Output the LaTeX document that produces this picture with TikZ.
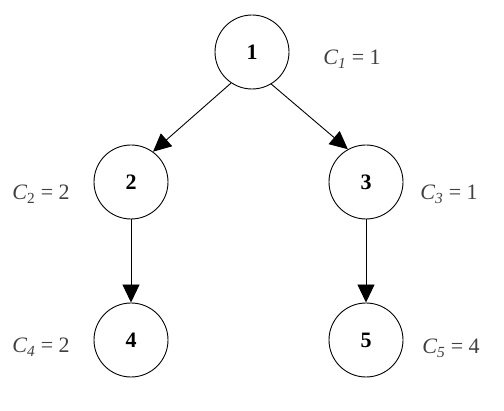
\documentclass[tikz,border=0pt]{standalone}
\usepackage{fontspec}
\setmainfont{Liberation Serif}
\usetikzlibrary{arrows.meta}
\begin{document}
\begin{tikzpicture}[x=1pt,y=-1pt,
  vert/.style={circle,draw=black,line width=0.9pt,minimum size=74pt,inner sep=0pt,font=\fontsize{22}{22}\selectfont\bfseries},
  cost/.style={anchor=base,text=black!75,font=\fontsize{22}{22}\selectfont,inner sep=0pt},
  arr/.style={line width=0.9pt,-{Triangle[length=18pt,width=17pt]}}]
\useasboundingbox (0,0) rectangle (504,411);
\node[vert] (n1) at (252,52) {1};
\node[vert] (n2) at (131,182) {2};
\node[vert] (n3) at (366,182) {3};
\node[vert] (n4) at (131,340) {4};
\node[vert] (n5) at (366,340) {5};
\node[cost] (c1) at (352,65) {\textit{C}\textsubscript{\textit{1}} = 1};
\node[cost] (c2) at (41,200) {\textit{C}\textsubscript{2} = 2};
\node[cost] (c3) at (449,200) {\textit{C}\textsubscript{\textit{3}} = 1};
\node[cost] (c4) at (41,353) {\textit{C}\textsubscript{\textit{4}} = 2};
\node[cost] (c5) at (451,354) {\textit{C}\textsubscript{\textit{5}} = 4};
\draw[arr] (n1.236) -- (n2.54);
\draw[arr] (n1.301) -- (n3.119);
\draw[arr] (n2.south) -- (n4.north);
\draw[arr] (n3.south) -- (n5.north);
\end{tikzpicture}
\end{document}
